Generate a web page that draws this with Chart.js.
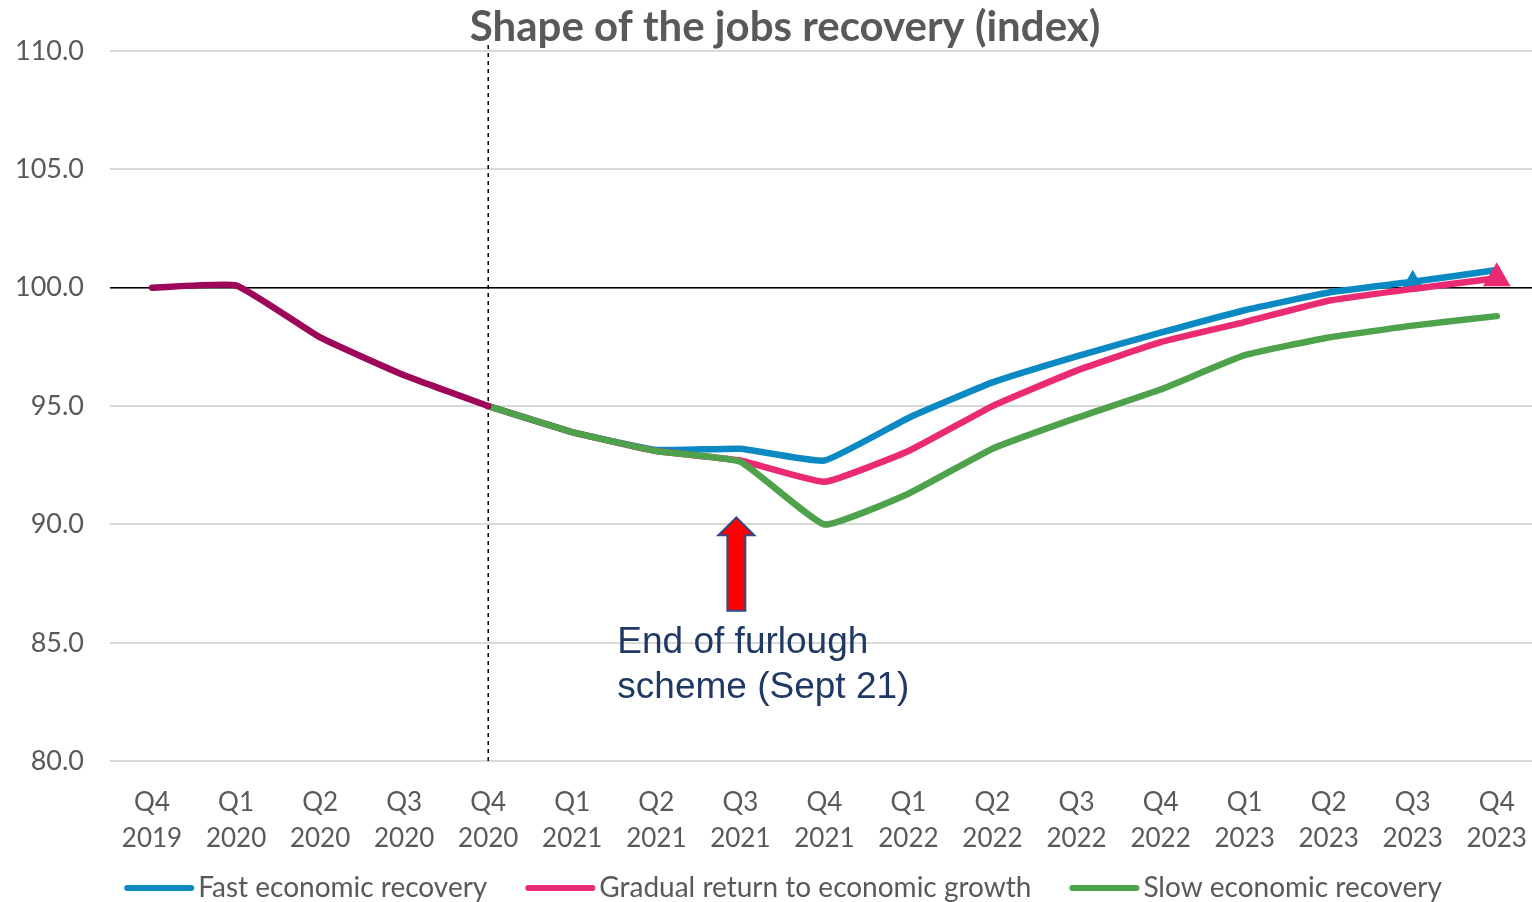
<!DOCTYPE html>
<html>
<head>
<meta charset="utf-8">
<script src="https://cdn.jsdelivr.net/npm/chart.js@4"></script>
<style>
  html, body { margin: 0; padding: 0; background: #fff; overflow: hidden; }
  canvas { display: block; }
</style>
</head>
<body>
<canvas id="chart" width="1542" height="902"></canvas>
<script>
// categories
const quarters = [
  "Q4 2019", "Q1 2020", "Q2 2020", "Q3 2020", "Q4 2020",
  "Q1 2021", "Q2 2021", "Q3 2021", "Q4 2021",
  "Q1 2022", "Q2 2022", "Q3 2022", "Q4 2022",
  "Q1 2023", "Q2 2023", "Q3 2023", "Q4 2023"
]

// series (index)
const history = [100.0, 100.1, 97.9, 96.3, 95.0, null, null, null, null, null, null, null, null, null, null, null, null]
const fast    = [null, null, null, null, 95.0, 93.9, 93.15, 93.2, 92.7, 94.5, 96.0, 97.1, 98.1, 99.05, 99.8, 100.25, 100.75]
const gradual = [null, null, null, null, 95.0, 93.9, 93.1, 92.7, 91.8, 93.1, 95.0, 96.5, 97.7, 98.55, 99.45, 99.95, 100.4]
const slow    = [null, null, null, null, 95.0, 93.9, 93.1, 92.65, 90.0, 91.3, 93.2, 94.5, 95.7, 97.15, 97.9, 98.4, 98.8]

// markers
const fastMarkerAt    = "Q3 2023"
const gradualMarkerAt = "Q4 2023"

// axis
const yTicks = [80, 85, 90, 95, 100, 105, 110]
const baseline = 100
const forecastStart = "Q4 2020"

// annotation
const noteAt = "Q3 2021"
const arrowTip = 90.3
const arrowEnd = 86.35
const noteLines = ["End of furlough", "scheme (Sept 21)"]
const noteY = [85.0, 83.1]

const title = "Shape of the jobs recovery (index)"

const gray  = "#595959"
const font  = "Lato, 'Open Sans', sans-serif"

const markerRadius = (at, r) => quarters.map(q => q === at ? r : 0)

const extras = {
  id: "extras",
  beforeDatasetsDraw(chart) {
    const { ctx, chartArea: a, scales: { x, y } } = chart
    ctx.save()
    // baseline at 100
    const yb = y.getPixelForValue(baseline)
    ctx.strokeStyle = "#000"
    ctx.lineWidth = 1.5
    ctx.beginPath()
    ctx.moveTo(a.left, yb)
    ctx.lineTo(a.right, yb)
    ctx.stroke()
    // forecast divider
    const xv = x.getPixelForValue(quarters.indexOf(forecastStart))
    ctx.setLineDash([4, 4])
    ctx.lineWidth = 1.5
    ctx.beginPath()
    ctx.moveTo(xv, a.top - 6)
    ctx.lineTo(xv, a.bottom)
    ctx.stroke()
    ctx.restore()
  },
  afterDraw(chart) {
    const { ctx, scales: { x, y } } = chart
    ctx.save()

    // title
    ctx.fillStyle = gray
    ctx.font = `bold 42px ${font}`
    ctx.textAlign = "center"
    ctx.textBaseline = "middle"
    ctx.fillText(title, 785, 27)

    // arrow
    const ax = x.getPixelForValue(quarters.indexOf(noteAt)) - 4
    const tip = y.getPixelForValue(arrowTip)
    const end = y.getPixelForValue(arrowEnd)
    const headH = 18, headW = 18, shaftW = 9
    ctx.beginPath()
    ctx.moveTo(ax, tip)
    ctx.lineTo(ax + headW, tip + headH)
    ctx.lineTo(ax + shaftW, tip + headH)
    ctx.lineTo(ax + shaftW, end)
    ctx.lineTo(ax - shaftW, end)
    ctx.lineTo(ax - shaftW, tip + headH)
    ctx.lineTo(ax - headW, tip + headH)
    ctx.closePath()
    ctx.fillStyle = "#ff0000"
    ctx.fill()
    ctx.strokeStyle = "#2f4a85"
    ctx.lineWidth = 2
    ctx.stroke()

    // note
    ctx.fillStyle = "#1f3864"
    ctx.font = "37px 'Liberation Sans', Arial, sans-serif"
    ctx.textAlign = "left"
    ctx.textBaseline = "middle"
    noteLines.forEach((t, i) => ctx.fillText(t, ax - 119, y.getPixelForValue(noteY[i])))

    // legend
    const items = chart.data.datasets.filter(d => d.label)
    ctx.font = `28px ${font}`
    const sample = 70, gap = 4, spacing = 38
    const widths = items.map(d => sample + gap + ctx.measureText(d.label).width)
    const total = widths.reduce((s, w) => s + w, 0) + spacing * (items.length - 1)
    let lx = 783 - total / 2
    const ly = 888
    items.forEach((d, i) => {
      ctx.strokeStyle = d.borderColor
      ctx.lineWidth = 6
      ctx.lineCap = "round"
      ctx.beginPath()
      ctx.moveTo(lx + 3, ly)
      ctx.lineTo(lx + sample - 3, ly)
      ctx.stroke()
      ctx.fillStyle = gray
      ctx.fillText(d.label, lx + sample + gap, ly)
      lx += widths[i] + spacing
    })
    ctx.restore()
  }
}

new Chart(document.getElementById("chart"), {
  type: "line",
  data: {
    labels: quarters,
    datasets: [
      {
        label: "Fast economic recovery",
        data: fast,
        borderColor: "#0a89c3",
        backgroundColor: "#0a89c3",
        pointStyle: "triangle",
        pointRadius: markerRadius(fastMarkerAt, 12),
        order: 3
      },
      {
        label: "Gradual return to economic growth",
        data: gradual,
        borderColor: "#ea2b73",
        backgroundColor: "#ea2b73",
        pointStyle: "triangle",
        pointRadius: markerRadius(gradualMarkerAt, 16),
        order: 2
      },
      {
        label: "Slow economic recovery",
        data: slow,
        borderColor: "#4ea24b",
        backgroundColor: "#4ea24b",
        pointRadius: 0,
        order: 1
      },
      {
        label: "",
        data: history,
        borderColor: "#9e0659",
        backgroundColor: "#9e0659",
        pointRadius: 0,
        order: 0
      }
    ]
  },
  options: {
    responsive: false,
    animation: false,
    layout: { autoPadding: false, padding: { top: 51, left: 14, right: 2, bottom: 30 } },
    elements: {
      line: { borderWidth: 6.5, tension: 0.12, borderCapStyle: "round", borderJoinStyle: "round" },
      point: { borderWidth: 0, hoverRadius: 0 }
    },
    plugins: {
      legend: { display: false },
      title: { display: false },
      tooltip: { enabled: false }
    },
    scales: {
      x: {
        offset: true,
        grid: { display: false },
        border: { display: false },
        ticks: {
          color: gray,
          font: { family: font, size: 26, lineHeight: 1.4 },
          padding: 15,
          maxRotation: 0,
          autoSkip: false,
          callback: (v, i) => quarters[i].split(" ")
        }
      },
      y: {
        min: 80,
        max: 110,
        afterBuildTicks: s => { s.ticks = yTicks.map(v => ({ value: v })) },
        afterFit: s => { s.width = 96 },
        grid: { color: "#d9d9d9", lineWidth: 2, drawTicks: false },
        border: { display: false },
        ticks: {
          color: gray,
          font: { family: font, size: 27 },
          padding: 26,
          callback: v => v.toFixed(1)
        }
      }
    }
  },
  plugins: [extras]
})
</script>
</body>
</html>
